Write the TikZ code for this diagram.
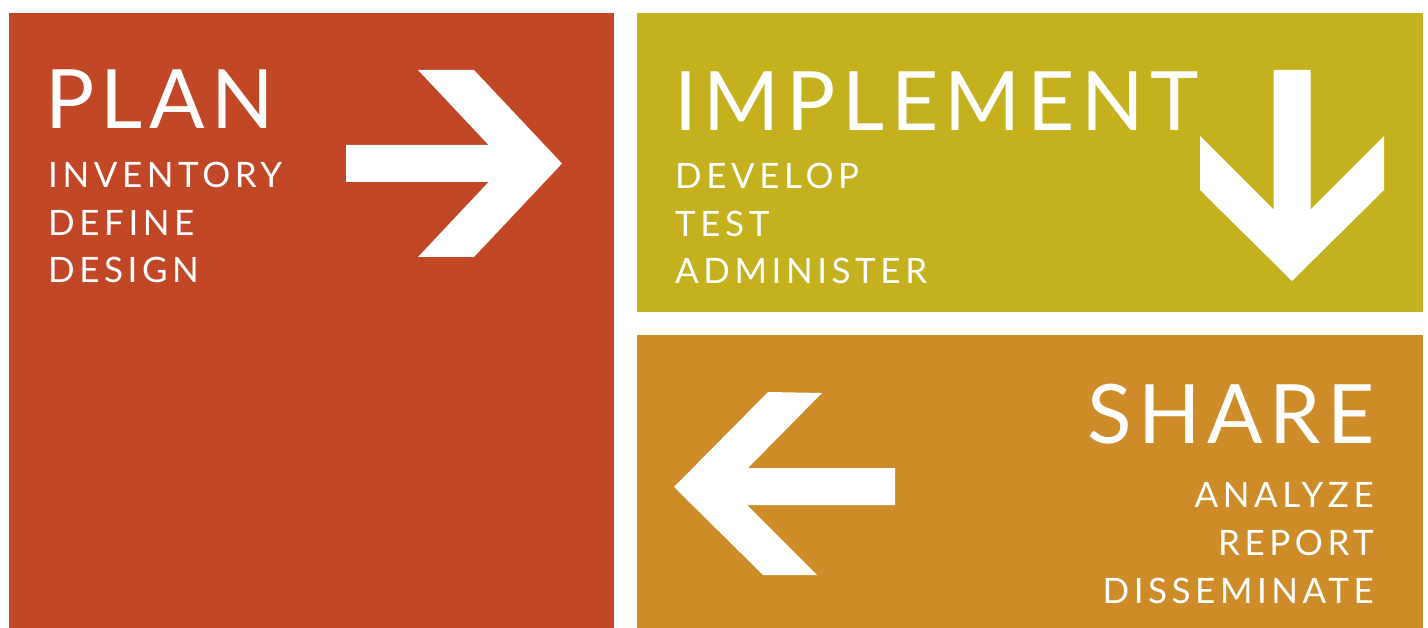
\documentclass[tikz,border=0pt]{standalone}
\usepackage{fontspec}
\setmainfont{Lato}
\newfontfamily\titlefont[LetterSpace=8]{Lato}
\newfontfamily\itemfont[LetterSpace=13]{Lato}
\definecolor{planred}{HTML}{C14726}
\definecolor{implementolive}{HTML}{C5B01E}
\definecolor{shareochre}{HTML}{CE8C28}
\begin{document}
\begin{tikzpicture}[x=1pt, y=-1pt,
    title/.style={text=white, inner sep=0pt, font=\titlefont\fontsize{82}{82}\selectfont},
    item/.style={text=white, inner sep=0pt, font=\itemfont\fontsize{35}{35}\selectfont}]

    \useasboundingbox (0,0) rectangle (1428,628);

    % Blocks
    \fill[planred] (9,13) rectangle (614,628);
    \fill[implementolive] (637,13) rectangle (1423,312);
    \fill[shareochre] (637,335) rectangle (1423,628);

    % Arrows
    \fill[white] (346,145) -- (488.6,145) -- (418,70) -- (474,70) -- (562,163.5)
        -- (474,257) -- (418,257) -- (488.6,182) -- (346,182) -- cycle;
    \fill[white] (1273.5,70) -- (1310.5,70) -- (1310.5,209.5) -- (1384,136) -- (1384,190)
        -- (1292,281) -- (1200,190) -- (1200,136) -- (1273.5,209.5) -- cycle;
    \fill[white] (895,468) -- (748,468) -- (822,393) -- (768,392) -- (674,487)
        -- (763,575) -- (817,575) -- (747,505) -- (895,505) -- cycle;

    % Plan
    \node[title, anchor=base west] (plan) at (45,129) {PLAN};
    \foreach \word [count=\i] in {INVENTORY,DEFINE,DESIGN}
        \node[item, anchor=base west] (plan\i) at (48,{188+47.5*(\i-1)}) {\word};

    % Implement
    \node[title, anchor=base west] (implement) at (674,131) {IMPLEMENT};
    \foreach \word [count=\i] in {DEVELOP,TEST,ADMINISTER}
        \node[item, anchor=base west] (implement\i) at (675,{189+47.5*(\i-1)}) {\word};

    % Share
    \node[title, anchor=base east] (share) at (1375,443) {SHARE};
    \foreach \word [count=\i] in {ANALYZE,REPORT,DISSEMINATE}
        \node[item, anchor=base east] (share\i) at (1374,{507+48*(\i-1)}) {\word};
\end{tikzpicture}
\end{document}
